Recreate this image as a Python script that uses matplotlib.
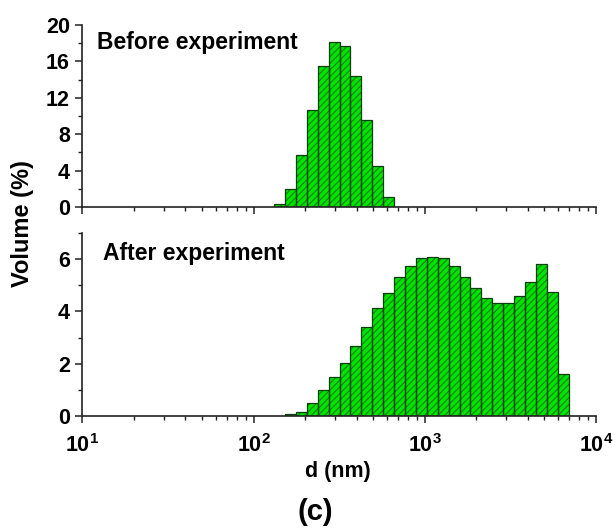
import numpy as np
import matplotlib
matplotlib.use("Agg")
import matplotlib.pyplot as plt
from matplotlib.ticker import LogLocator, NullFormatter, MultipleLocator

plt.rcParams["font.family"] = ["Liberation Sans", "DejaVu Sans"]
plt.rcParams["font.weight"] = "bold"
plt.rcParams["mathtext.fontset"] = "custom"
plt.rcParams["mathtext.rm"] = "Liberation Sans:bold"
plt.rcParams["mathtext.it"] = "Liberation Sans:bold"
plt.rcParams["mathtext.bf"] = "Liberation Sans:bold"
plt.rcParams["hatch.linewidth"] = 0.9

# size classes (nm) and volume distributions (%)
d_before = [141.8, 164.2, 190.1, 220.2, 255.0, 295.3, 342.0, 396.1, 458.7, 531.2, 615.1]
vol_before = [0.35, 2.0, 5.7, 10.7, 15.5, 18.1, 17.7, 14.4, 9.6, 4.5, 1.1]

d_after = [164.2, 190.1, 220.2, 255.0, 295.3, 342.0, 396.1, 458.7, 531.2, 615.1,
           712.4, 825.0, 955.4, 1106, 1281, 1484, 1718, 1990, 2305, 2669,
           3091, 3580, 4145, 4801, 5560, 6439]
vol_after = [0.07, 0.17, 0.5, 1.0, 1.51, 2.03, 2.69, 3.4, 4.13, 4.72,
             5.32, 5.72, 6.03, 6.1, 6.03, 5.73, 5.31, 4.91, 4.5, 4.31,
             4.31, 4.59, 5.12, 5.83, 4.74, 1.62]

x_ticks = [10, 100, 1000, 10000]
x_labels = ["$10^{1}$", "$10^{2}$", "$10^{3}$", "$10^{4}$"]
class_ratio = 1.158

FACE = "#00e400"
HATCH = "#128a12"
EDGE = "#0d3d0d"


def draw_hist(ax, d, vol):
    d = np.asarray(d, dtype=float)
    left = d / np.sqrt(class_ratio)
    width = d * np.sqrt(class_ratio) - left
    # fill + hatch, then the dark outline on top
    ax.bar(left, vol, width=width, align="edge", color=FACE,
           edgecolor=HATCH, linewidth=0, hatch="/////", zorder=2)
    ax.bar(left, vol, width=width, align="edge", facecolor="none",
           edgecolor=EDGE, linewidth=0.9, zorder=3)


def style_axis(ax, ymax, ymajor, yminor):
    ax.set_xscale("log")
    ax.set_xlim(10, 10000)
    ax.set_ylim(0, ymax)
    for side in ("top", "right"):
        ax.spines[side].set_visible(False)
    for side in ("left", "bottom"):
        ax.spines[side].set_linewidth(1.2)
        ax.spines[side].set_color("#222222")
        ax.spines[side].set_zorder(4)
    ax.yaxis.set_major_locator(MultipleLocator(ymajor))
    ax.yaxis.set_minor_locator(MultipleLocator(yminor))
    ax.xaxis.set_minor_locator(LogLocator(base=10, subs=np.arange(2, 10), numticks=20))
    ax.xaxis.set_minor_formatter(NullFormatter())
    ax.tick_params(which="major", direction="out", length=5, width=1.1,
                   color="#222222", labelsize=15.5, pad=4)
    ax.tick_params(which="minor", direction="out", length=3, width=1.0,
                   color="#222222")
    ax.tick_params(axis="x", which="major", pad=8)


fig = plt.figure(figsize=(6.15, 5.31), dpi=100)
ax_top = fig.add_axes([0.1338, 0.6102, 0.8353, 0.3427])
ax_bot = fig.add_axes([0.1338, 0.2166, 0.8353, 0.3446])

draw_hist(ax_top, d_before, vol_before)
style_axis(ax_top, 20, 4, 2)
ax_top.set_xticks(x_ticks, [""] * len(x_ticks))
ax_top.set_ylim(0, 20)
ax_top.text(0.029, 0.905, "Before experiment", transform=ax_top.transAxes,
            fontsize=16.5, fontweight="bold", va="center", ha="left")

draw_hist(ax_bot, d_after, vol_after)
style_axis(ax_bot, 7, 2, 1)
ax_bot.set_xticks(x_ticks, x_labels)
ax_bot.set_ylim(0, 7)
ax_bot.text(0.040, 0.89, "After experiment", transform=ax_bot.transAxes,
            fontsize=16.5, fontweight="bold", va="center", ha="left")

fig.text(0.037, 0.579, "Volume (%)", rotation=90, fontsize=17,
         fontweight="bold", ha="center", va="center")
fig.text(0.55, 0.112, "d (nm)", fontsize=15.5, fontweight="bold",
         ha="center", va="center")
fig.text(0.513, 0.035, "(c)", fontsize=21, fontweight="bold",
         ha="center", va="center")

fig.savefig("out.png", dpi=100)
